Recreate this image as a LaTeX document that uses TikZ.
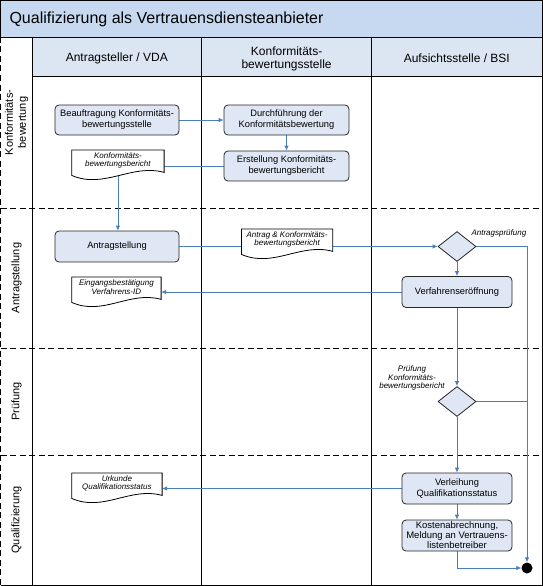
\documentclass[tikz,border=0pt]{standalone}
\usepackage{fontspec}
\setmainfont{Liberation Sans}
\usetikzlibrary{arrows.meta,calc,backgrounds,shapes.geometric}
\definecolor{titlefill}{HTML}{C6D9F1}
\definecolor{headfill}{HTML}{DCE6F2}
\definecolor{boxfill}{HTML}{DEE7F3}
\definecolor{connblue}{HTML}{4A7EBB}
\pgfdeclarelayer{conn}
\pgfdeclarelayer{docs}
\pgfsetlayers{background,conn,docs,main}
\begin{document}
\begin{tikzpicture}[x=1pt,y=-1pt,
  frameline/.style={draw=black,line width=0.9pt},
  lanedash/.style={draw=black,line width=0.9pt,dash pattern=on 6pt off 3.5pt},
  proc/.style={draw=black!85,fill=boxfill,rounded corners=4pt,line width=0.8pt,align=center,
    font=\fontsize{9.3}{11}\selectfont,inner sep=0pt,minimum width=124pt,minimum height=30pt},
  procb/.style={proc,minimum width=110pt},
  decision/.style={diamond,draw=black!85,fill=boxfill,line width=0.8pt,inner sep=0pt,
    minimum width=38pt,minimum height=30pt},
  docn/.style={inner sep=0pt,minimum height=20pt,anchor=north west,align=center,
    font=\itshape\fontsize{8}{8.4}\selectfont},
  docline/.style={draw=black,fill=white,line width=0.8pt},
  small/.style={align=center,font=\itshape\fontsize{8}{8.5}\selectfont},
  lanelabel/.style={rotate=90,align=center,font=\fontsize{11}{13}\selectfont},
  headlabel/.style={align=center,font=\fontsize{12}{13.5}\selectfont},
  conn/.style={draw=connblue,line width=0.8pt},
  arr/.style={conn,-{Latex[length=5pt,width=4.5pt]}},
  endnode/.style={circle,fill=black,inner sep=0pt,minimum size=11pt}
]
\useasboundingbox (0,0) rectangle (543,586);

% ---------- frame ----------
\begin{pgfonlayer}{background}
  \fill[titlefill] (0.5,0.5) rectangle (542,37);
  \fill[headfill] (32,37) rectangle (542,76);
  \draw[frameline] (0.5,37) -- (0.5,0.5) -- (542,0.5) -- (542,585.5) -- (0.5,585.5);
  \draw[frameline] (0.5,37) -- (542,37);
  \draw[lanedash] (0.5,37) -- (0.5,585.5);
  \draw[frameline] (32,37) -- (32,585.5);
  \draw[frameline] (201.6,37) -- (201.6,585.5);
  \draw[frameline] (371.6,37) -- (371.6,585.5);
  \draw[frameline] (32,76) -- (542,76);
  \draw[lanedash] (0.5,208) -- (542,208);
  \draw[lanedash] (0.5,348) -- (542,348);
  \draw[lanedash] (0.5,455) -- (542,455);
\end{pgfonlayer}

% ---------- titles ----------
\node[anchor=west,font=\fontsize{16}{18}\selectfont] (title) at (6,19) {Qualifizierung als Vertrauensdiensteanbieter};
\node[headlabel] (h1) at (116.8,58) {Antragsteller / VDA};
\node[headlabel] (h2) at (286.6,59) {Konformitäts-\\bewertungsstelle};
\node[headlabel] (h3) at (456.8,58) {Aufsichtsstelle / BSI};

\node[lanelabel] (l1) at (16.5,122.5) {Konformitäts-\\bewertung};
\node[lanelabel] (l2) at (16.5,278) {Antragstellung};
\node[lanelabel] (l3) at (16.5,401.5) {Prüfung};
\node[lanelabel] (l4) at (16.5,520) {Qualifizierung};

% ---------- process boxes ----------
\node[proc] (b1) at (117,120) {Beauftragung Konformitäts-\\bewertungsstelle};
\node[proc,minimum width=125pt] (b2) at (286.5,120) {Durchführung der\\Konformitätsbewertung};
\node[proc,minimum width=125pt] (b3) at (286.5,166) {Erstellung Konformitäts-\\bewertungsbericht};
\node[proc,minimum height=31pt] (a1) at (117,246.5) {Antragstellung};
\node[procb,minimum height=31pt] (v) at (457,292) {Verfahrenseröffnung};
\node[procb,minimum height=31pt] (q1) at (457,488.5) {Verleihung\\Qualifikationsstatus};
\node[procb,minimum height=31pt,font=\fontsize{9.5}{10}\selectfont] (q2) at (457,535.5) {Kostenabrechnung,\\Meldung an Vertrauens-\\listenbetreiber};

% ---------- decisions ----------
\node[decision] (dm1) at (457,246.5) {};
\node[small,anchor=west] (dm1l) at (468,233) {Antragsprüfung};
\node[decision] (dm2) at (457,401.5) {};
\node[small] (dm2l) at (412,378) {Prüfung\\Konformitäts-\\bewertungsbericht};

\node[endnode] (endc) at (527,568) {};

% ---------- documents ----------
\node[docn,minimum width=92pt] (d1) at (71.7,150) {Konformitäts-\\bewertungsbericht};
\node[docn,minimum width=91pt] (ad) at (241.4,229) {Antrag \& Konformitäts-\\bewertungsbericht};
\node[docn,minimum width=89pt] (ed) at (71.7,277) {Eingangsbestätigung\\Verfahrens-ID};
\node[docn,minimum width=90pt] (ud) at (71.7,473) {Urkunde\\Qualifikationsstatus};

\begin{pgfonlayer}{docs}
\foreach \d in {d1,ad,ed,ud}{
  \draw[docline] (\d.north west) -- (\d.north east) -- ($(\d.south east)+(0,2)$)
    .. controls ($(\d.south east)!0.35!(\d.south west)+(0,-7)$) and ($(\d.south east)!0.65!(\d.south west)+(0,19)$)
    .. ($(\d.south west)+(0,5)$) -- cycle;
}
\end{pgfonlayer}

% ---------- connectors ----------
\begin{pgfonlayer}{conn}
  \draw[arr] (b1) -- (b2);
  \draw[arr] (b2) -- (b3);
  \draw[conn] (b3.west) -- (d1.east |- b3.west);
  \draw[arr] (d1.center) -- (d1.south |- a1.north);
  \draw[conn] (a1.east) -- (ad.west |- a1.east);
  \draw[arr] (ad.east |- a1.east) -- (dm1.west);
  \draw[arr] (dm1.south) -- (v.north);
  \draw[arr] (dm1.east) -| (endc.north);
  \draw[arr] (v.west) -- (ed.east |- v.west);
  \draw[arr] (v.south) -- (dm2.north);
  \draw[conn] (dm2.east) -- (dm2.east -| endc);
  \draw[arr] (dm2.south) -- (q1.north);
  \draw[arr] (q1.west) -- (ud.east |- q1.west);
  \draw[arr] (q1.south) -- (q2.north);
  \draw[arr] (q2.south) |- (endc.west);
\end{pgfonlayer}
\end{tikzpicture}
\end{document}
